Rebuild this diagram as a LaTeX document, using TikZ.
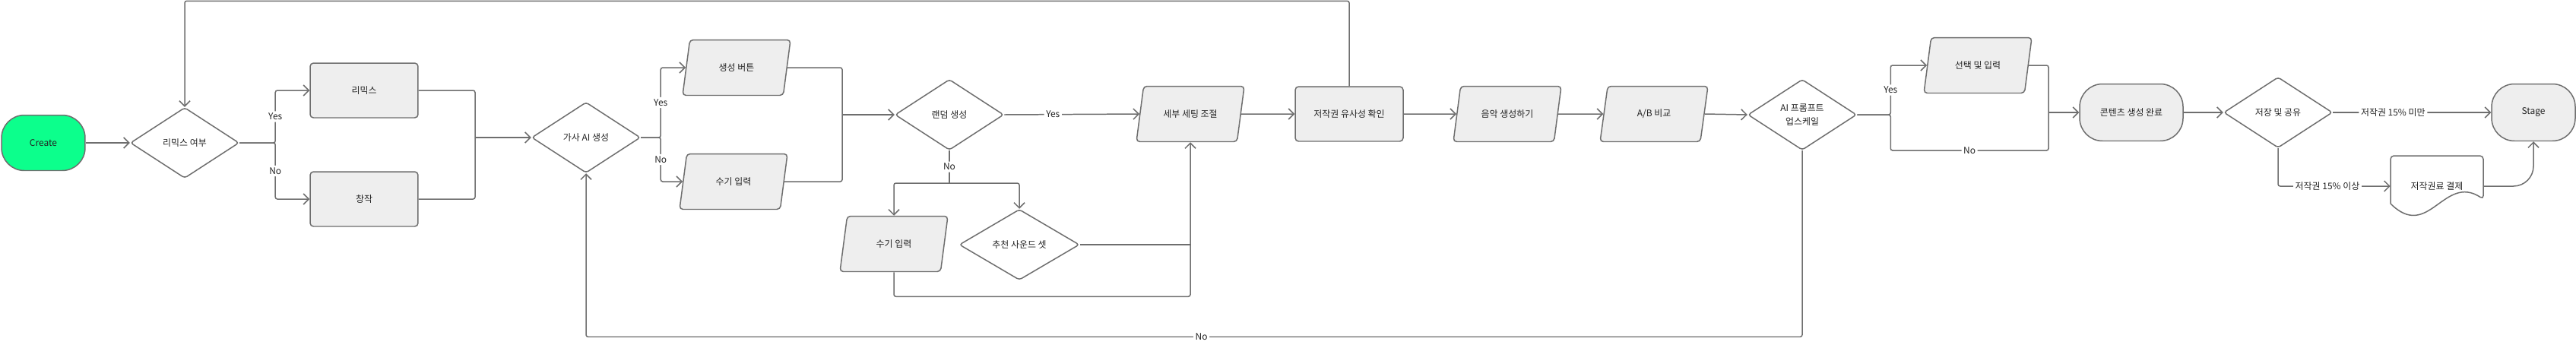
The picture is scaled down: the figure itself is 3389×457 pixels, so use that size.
\documentclass[tikz,border=0pt]{standalone}
\usepackage{fontspec}
\setmainfont{Noto Sans CJK KR}
\usetikzlibrary{shapes.geometric,arrows.meta,positioning,calc}

\definecolor{linegray}{HTML}{6E6E6E}
\definecolor{boxgray}{HTML}{EEEEEE}
\definecolor{startgreen}{HTML}{0CFF8C}
\definecolor{textdark}{HTML}{222222}

\begin{document}
\begin{tikzpicture}[
    x=0.02cm, y=-0.02cm,
    font=\fontsize{6.8}{10}\selectfont, text=textdark,
    >={Straight Barb[length=4pt,width=8pt]},
    conn/.style={draw=linegray, line width=0.85pt, rounded corners=1.5pt},
    block/.style={rectangle, draw=linegray, line width=0.85pt, fill=boxgray, rounded corners=2.5pt, minimum width=2.84cm, minimum height=1.44cm},
    io/.style={trapezium, trapezium left angle=67, trapezium right angle=113, trapezium stretches body, draw=linegray, line width=0.85pt, fill=boxgray, rounded corners=2.5pt, minimum width=2.84cm, minimum height=1.46cm},
    decision/.style={diamond, draw=linegray, line width=0.85pt, fill=white, rounded corners=2pt, minimum width=2.86cm, minimum height=1.86cm, inner sep=0pt, align=center},
    terminal/.style={rectangle, draw=linegray, line width=0.85pt, rounded corners=0.6cm, minimum width=2.2cm, minimum height=1.46cm},
    lbl/.style={fill=white, inner sep=1.5pt}
]
\useasboundingbox (0,0) rectangle (3389,457);

% Start and remix choice
\node[terminal, fill=startgreen] (create) at (57,188) {Create};
\node[decision] (remixq) at (243,188) {리믹스 여부};
\node[block] (remix) at (479,119) {리믹스};
\node[block] (orig) at (479,262) {창작};

% Lyrics
\node[decision] (lyricq) at (771,181) {가사 AI 생성};
\node[io] (genbtn) at (969,89) {생성 버튼};
\node[io] (manual) at (965,239) {수기 입력};

% Random generation
\node[decision] (randq) at (1249,151) {랜덤 생성};
\node[io] (manual2) at (1176,321) {수기 입력};
\node[decision, minimum width=3.16cm] (soundq) at (1341,322) {추천 사운드 셋};

% Settings and generation
\node[io] (detail) at (1566,150) {세부 세팅 조절};
\node[block] (simchk) at (1775,150) {저작권 유사성 확인};
\node[io] (musicgen) at (1983,150) {음악 생성하기};
\node[io] (abcmp) at (2176,150) {A/B 비교};
\node[decision] (upscale) at (2371,151) {AI 프롬프트\\업스케일};
\node[io] (select) at (2602,86) {선택 및 입력};

% Finish
\node[terminal, fill=boxgray, minimum width=2.72cm, minimum height=1.5cm] (done) at (2804,148) {콘텐츠 생성 완료};
\node[decision] (saveq) at (2997,148) {저장 및 공유};
\node[terminal, fill=boxgray, minimum height=1.5cm] (stage) at (3333,148) {Stage};
\node[minimum width=2.44cm, minimum height=1.6cm] (fee) at (3206,245) {저작권료 결제};
\draw[conn, rounded corners=2.5pt] (3145,268) -- (3145,205) -- (3267,205) -- (3267,262) .. controls (3215,228) and (3195,318) .. (3145,268);

\coordinate (m1) at (625,181);
\coordinate (m2) at (1108,151);
\coordinate (n1) at (1249,241);
\coordinate (m3) at (2695,148);
\coordinate (nobr) at (2695,198);

\draw[conn,->] (create) -- (remixq);
\draw[conn,->] (remixq.east) -- ++(47,0) |- (remix.west) node[pos=0.25, lbl]{Yes};
\draw[conn,->] (remixq.east) -- ++(47,0) |- (orig.west) node[pos=0.25, lbl]{No};
\draw[conn] (remix.east) -| (m1);
\draw[conn] (orig.east) -| (m1);
\draw[conn,->] (m1) -- (lyricq.west);

\draw[conn,->] (lyricq.east) -- ++(26,0) |- (genbtn.west) node[pos=0.25, lbl]{Yes};
\draw[conn,->] (lyricq.east) -- ++(26,0) |- (manual.west) node[pos=0.25, lbl]{No};
\draw[conn] (genbtn.east) -| (m2);
\draw[conn] (manual.east) -| (m2);
\draw[conn,->] (m2) -- (randq.west);

\draw[conn,->] (randq.east) -- (detail.west) node[pos=0.36, lbl]{Yes};
\draw[conn] (randq.south) -- (n1) node[midway, lbl]{No};
\draw[conn,->] (n1) -| (manual2.north);
\draw[conn,->] (n1) -| (soundq.north);
\draw[conn,->] (manual2.south) -- ++(0,32) -| (detail.south);
\draw[conn] (soundq.east) -- (soundq.east -| detail.south);

\draw[conn,->] (detail.east) -- (simchk.west);
\draw[conn,->] (simchk.north) -- ++(0,-112) -| (remixq.north);
\draw[conn,->] (simchk.east) -- (musicgen.west);
\draw[conn,->] (musicgen.east) -- (abcmp.west);
\draw[conn,->] (abcmp.east) -- (upscale.west);
\draw[conn,->] (upscale.south) -- ++(0,245) -| (lyricq.south) node[pos=0.247, lbl]{No};

\draw[conn,->] (upscale.east) -- ++(44,0) |- (select.west) node[pos=0.25, lbl]{Yes};
\draw[conn] (upscale.east) -- ++(44,0) |- (nobr) node[pos=0.75, lbl]{No} -- (m3);
\draw[conn] (select.east) -| (m3);
\draw[conn,->] (m3) -- (done.west);

\draw[conn,->] (done.east) -- (saveq.west);
\draw[conn,->] (saveq.east) -- (stage.west) node[pos=0.38, lbl]{저작권 15\% 미만};
\draw[conn,->] (saveq.south) |- (fee.west) node[pos=0.72, lbl]{저작권 15\% 이상};
\draw[conn,->, rounded corners=15] (fee.east) -| (stage.south);

\end{tikzpicture}
\end{document}
